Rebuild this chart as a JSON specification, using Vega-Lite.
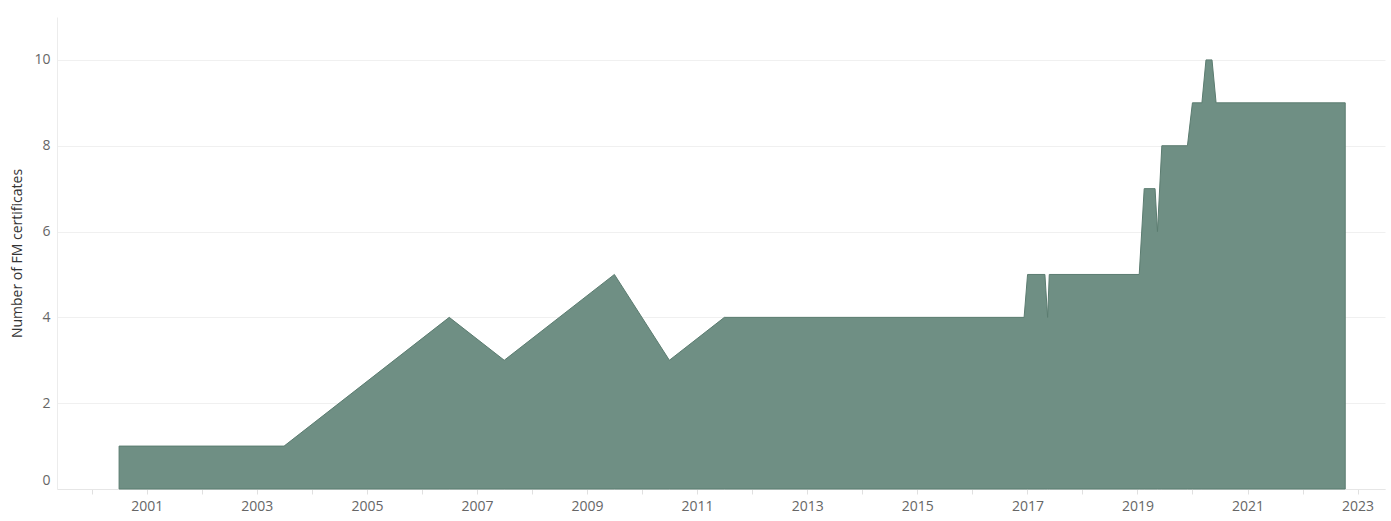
{
  "$schema": "https://vega.github.io/schema/vega-lite/v6.json",
  "width": 1328,
  "height": 472,
  "autosize": "none",
  "padding": {"left": 57, "top": 17, "right": 6, "bottom": 32},
  "background": "white",
  "config": {"view": {"stroke": null}, "font": "Open Sans"},
  "data": {
    "values": [
      {"date": "2000-07-01", "value": 1},
      {"date": "2003-07-01", "value": 1},
      {"date": "2006-07-01", "value": 4},
      {"date": "2007-07-01", "value": 3},
      {"date": "2009-07-01", "value": 5},
      {"date": "2010-07-01", "value": 3},
      {"date": "2011-07-01", "value": 4},
      {"date": "2016-12-10", "value": 4},
      {"date": "2017-01-02", "value": 5},
      {"date": "2017-04-27", "value": 5},
      {"date": "2017-05-15", "value": 4},
      {"date": "2017-05-26", "value": 5},
      {"date": "2019-01-13", "value": 5},
      {"date": "2019-02-15", "value": 7},
      {"date": "2019-04-28", "value": 7},
      {"date": "2019-05-14", "value": 6},
      {"date": "2019-06-12", "value": 8},
      {"date": "2019-11-29", "value": 8},
      {"date": "2020-01-01", "value": 9},
      {"date": "2020-03-04", "value": 9},
      {"date": "2020-03-31", "value": 10},
      {"date": "2020-05-10", "value": 10},
      {"date": "2020-06-06", "value": 9},
      {"date": "2022-10-11", "value": 9}
    ]
  },
  "mark": {
    "type": "area",
    "color": "#6f8f84",
    "opacity": 1,
    "stroke": "#5b7c70",
    "strokeWidth": 1,
    "strokeJoin": "miter"
  },
  "encoding": {
    "x": {
      "field": "date",
      "type": "temporal",
      "scale": {
        "type": "utc",
        "domain": [
          {"year": 1999, "month": 5, "date": 16, "utc": true},
          {"year": 2023, "month": 7, "date": 2, "utc": true}
        ]
      },
      "axis": {
        "title": null,
        "grid": false,
        "tickCount": {"interval": "year", "step": 1},
        "labelExpr": "utcyear(datum.value) % 2 == 1 ? utcFormat(datum.value, '%Y') : ''",
        "labelOverlap": false,
        "labelFlush": false,
        "domainColor": "#e6e6e6",
        "tickColor": "#e0e0e0",
        "tickSize": 5,
        "labelPadding": 5,
        "labelFontSize": 14,
        "labelColor": "#666666",
        "labelFont": "Open Sans"
      }
    },
    "y": {
      "field": "value",
      "type": "quantitative",
      "scale": {"domain": [0, 11], "nice": false},
      "axis": {
        "title": "Number of FM certificates",
        "values": [0, 2, 4, 6, 8, 10],
        "grid": true,
        "gridColor": "#f0f0f0",
        "ticks": false,
        "domainColor": "#ececec",
        "labelPadding": 7,
        "labelFlush": true,
        "labelFlushOffset": -2,
        "labelFontSize": 14,
        "labelColor": "#666666",
        "labelFont": "Open Sans",
        "titleFont": "Open Sans",
        "titleFontSize": 14,
        "titleFontWeight": "normal",
        "titleColor": "#333333",
        "titlePadding": 9
      }
    }
  }
}
